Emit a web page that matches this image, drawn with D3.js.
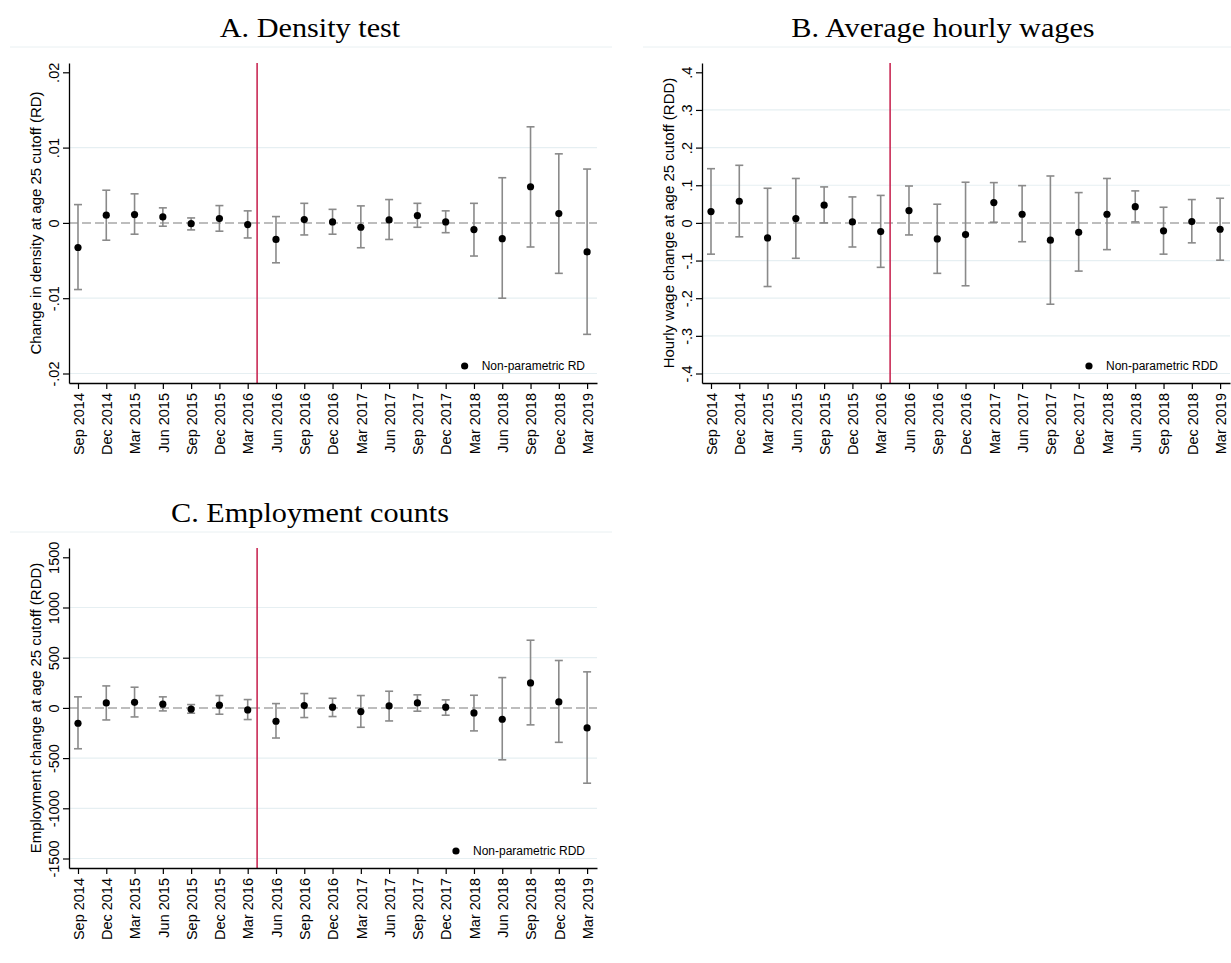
<!DOCTYPE html>
<html><head><meta charset="utf-8">
<script src="https://cdn.jsdelivr.net/npm/d3@7"></script>
<style>
body{margin:0;background:#fff;}
svg{display:block;font-family:"Liberation Sans",Arial,sans-serif;}
</style>
</head><body>
<svg id="chart" width="1231" height="963"></svg>
<script>
// ---------- data ----------
const quarters = ["Sep 2014","Dec 2014","Mar 2015","Jun 2015","Sep 2015","Dec 2015","Mar 2016","Jun 2016","Sep 2016","Dec 2016","Mar 2017","Jun 2017","Sep 2017","Dec 2017","Mar 2018","Jun 2018","Sep 2018","Dec 2018","Mar 2019"];
const cutoffIndex = 6.333; // April 2016 (between Mar 2016 and Jun 2016)

const densityEst = [-0.00327, 0.00102, 0.00111, 0.0008, -0.0001, 0.00058, -0.00022, -0.0022, 0.00044, 0.00013, -0.00058, 0.0004, 0.00097, 0.00013, -0.00088, -0.0021, 0.0048, 0.00124, -0.00385];
const densityLo  = [-0.00885, -0.0023, -0.0015, -0.00044, -0.00093, -0.0011, -0.002, -0.0053, -0.0016, -0.0015, -0.0033, -0.0022, -0.00058, -0.0013, -0.0044, -0.0100, -0.0032, -0.0067, -0.0148];
const densityHi  = [0.00243, 0.00434, 0.00386, 0.0020, 0.00066, 0.0023, 0.0016, 0.00084, 0.0026, 0.0018, 0.00226, 0.0031, 0.0026, 0.0016, 0.0026, 0.0060, 0.01276, 0.00917, 0.00715];
const densityTicks = [0.02, 0.01, 0, -0.01, -0.02];
const densityTickLabels = [".02", ".01", "0", "-.01", "-.02"];

const wageEst = [0.030, 0.0575, -0.040, 0.0115, 0.047, 0.0027, -0.023, 0.0327, -0.0425, -0.031, 0.054, 0.023, -0.046, -0.025, 0.023, 0.043, -0.021, 0.0035, -0.0168];
const wageLo  = [-0.083, -0.037, -0.169, -0.094, 0.0, -0.064, -0.118, -0.032, -0.134, -0.167, 0.0018, -0.050, -0.216, -0.128, -0.071, 0.0027, -0.083, -0.053, -0.099];
const wageHi  = [0.144, 0.153, 0.092, 0.118, 0.0956, 0.069, 0.073, 0.098, 0.0496, 0.108, 0.107, 0.099, 0.1246, 0.0805, 0.118, 0.085, 0.0416, 0.062, 0.0655];
const wageTicks = [0.4, 0.3, 0.2, 0.1, 0, -0.1, -0.2, -0.3, -0.4];
const wageTickLabels = [".4", ".3", ".2", ".1", "0", "-.1", "-.2", "-.3", "-.4"];

const empEst = [-153, 50, 56, 37, -13, 27, -20, -133, 23, 7, -37, 20, 50, 7, -50, -113, 249, 60, -199];
const empLo  = [-407, -120, -90, -30, -53, -63, -116, -300, -96, -86, -193, -130, -33, -73, -229, -517, -169, -343, -750];
const empHi  = [110, 219, 206, 110, 33, 123, 83, 43, 143, 96, 123, 166, 130, 80, 126, 302, 674, 472, 359];
const empTicks = [1500, 1000, 500, 0, -500, -1000, -1500];
const empTickLabels = ["1500", "1000", "500", "0", "-500", "-1000", "-1500"];

const titles = ["A. Density test", "B. Average hourly wages", "C. Employment counts"];
const yTitles = ["Change in density at age 25 cutoff (RD)", "Hourly wage change at age 25 cutoff (RDD)", "Employment change at age 25 cutoff (RDD)"];
const legendLabels = ["Non-parametric RD", "Non-parametric RDD", "Non-parametric RDD"];

// ---------- drawing ----------
const svg = d3.select("#chart");

function drawPanel(p) {
  const g = svg.append("g");
  const x = d3.scaleLinear().domain([-0.318, quarters.length - 1 + 0.35]).range([p.left, p.right]);
  const yBase = d3.scaleLinear()
      .domain([p.ticks[p.ticks.length - 1], p.ticks[0]])
      .range([p.bottom - 9.5, p.top + 9.3]);
  const y = d3.scaleLinear()
      .domain([yBase.invert(p.bottom), yBase.invert(p.top)])
      .range([p.bottom, p.top]);

  // faint graph-region line
  g.append("line").attr("x1", p.regionLeft).attr("x2", p.regionRight)
    .attr("y1", p.top - 16).attr("y2", p.top - 16)
    .attr("stroke", "#e9f0f2").attr("stroke-width", 1);

  // title
  g.append("text")
    .attr("transform", `translate(${p.titleX},${p.top - 26}) scale(1.08,1)`)
    .attr("text-anchor", "middle")
    .style("font-family", '"Liberation Serif","Times New Roman",serif')
    .style("font-size", "28px").attr("fill", "#000")
    .text(p.title);

  // gridlines (not at top tick and zero)
  g.selectAll("line.grid").data(p.ticks.filter((t, i) => i > 0 && t !== 0))
    .join("line").attr("class", "grid")
    .attr("x1", p.left).attr("x2", p.right)
    .attr("y1", d => y(d)).attr("y2", d => y(d))
    .attr("stroke", "#e6eff2").attr("stroke-width", 1.2);

  // dashed zero line
  g.append("line").attr("x1", p.left).attr("x2", p.right)
    .attr("y1", y(0)).attr("y2", y(0))
    .attr("stroke", "#a8a8a8").attr("stroke-width", 1.5)
    .attr("stroke-dasharray", "9,4");

  // cutoff line
  g.append("line").attr("x1", x(cutoffIndex)).attr("x2", x(cutoffIndex))
    .attr("y1", p.top).attr("y2", p.bottom)
    .attr("stroke", "#c92a55").attr("stroke-width", 1.6);

  const idx = d3.range(quarters.length);
  const eb = g.append("g").attr("stroke", "#8a8a8a").attr("stroke-width", 1.6);
  eb.selectAll("line.v").data(idx).join("line").attr("class", "v")
    .attr("x1", i => x(i)).attr("x2", i => x(i))
    .attr("y1", i => y(p.lo[i])).attr("y2", i => y(p.hi[i]));
  eb.selectAll("line.ct").data(idx).join("line").attr("class", "ct")
    .attr("x1", i => x(i) - 4).attr("x2", i => x(i) + 4)
    .attr("y1", i => y(p.hi[i])).attr("y2", i => y(p.hi[i]));
  eb.selectAll("line.cb").data(idx).join("line").attr("class", "cb")
    .attr("x1", i => x(i) - 4).attr("x2", i => x(i) + 4)
    .attr("y1", i => y(p.lo[i])).attr("y2", i => y(p.lo[i]));

  g.selectAll("circle.pt").data(idx).join("circle").attr("class", "pt")
    .attr("cx", i => x(i)).attr("cy", i => y(p.est[i])).attr("r", 3.6)
    .attr("fill", "#000");

  // y axis
  const ya = g.append("g").attr("transform", `translate(${p.left},0)`)
    .call(d3.axisLeft(y).tickValues(p.ticks).tickSize(6).tickSizeOuter(0)
      .tickFormat((d, i) => p.tickLabels[i]));
  ya.select(".domain").attr("stroke", "#000").attr("stroke-width", 1.3);
  ya.selectAll(".tick line").attr("stroke", "#000").attr("stroke-width", 1.2);
  ya.selectAll(".tick text")
    .attr("transform", "rotate(-90)")
    .attr("x", 0).attr("y", -10).attr("dy", 0)
    .attr("text-anchor", "middle")
    .style("font-size", "14.5px").attr("fill", "#000");

  // x axis
  const xa = g.append("g").attr("transform", `translate(0,${p.bottom})`)
    .call(d3.axisBottom(x).tickValues(idx).tickSize(6).tickSizeOuter(0)
      .tickFormat(i => quarters[i]));
  xa.select(".domain").attr("stroke", "#000").attr("stroke-width", 1.3);
  xa.selectAll(".tick line").attr("stroke", "#000").attr("stroke-width", 1.2);
  xa.selectAll(".tick text")
    .attr("transform", "rotate(-90)")
    .attr("x", -10).attr("y", 0).attr("dy", "0.36em")
    .attr("text-anchor", "end")
    .style("font-size", "14.5px").attr("fill", "#000");

  // y axis title
  g.append("text")
    .attr("transform", `translate(${p.left - 28},${(p.top + p.bottom) / 2}) rotate(-90)`)
    .attr("text-anchor", "middle")
    .style("font-size", "15px").attr("fill", "#000")
    .text(p.yTitle);

  // legend
  const lt = g.append("text")
    .attr("x", p.right - 12).attr("y", p.bottom - 17).attr("dy", "0.35em")
    .attr("text-anchor", "end").style("font-size", "12px").attr("fill", "#000")
    .text(p.legend);
  const w = lt.node().getComputedTextLength();
  g.append("circle").attr("cx", p.right - 12 - w - 17).attr("cy", p.bottom - 17)
    .attr("r", 3.6).attr("fill", "#000");
}

drawPanel({title: titles[0], yTitle: yTitles[0], legend: legendLabels[0],
  est: densityEst, lo: densityLo, hi: densityHi, ticks: densityTicks, tickLabels: densityTickLabels,
  left: 69, right: 597, top: 63, bottom: 383, titleX: 310, regionLeft: 10, regionRight: 612});
drawPanel({title: titles[1], yTitle: yTitles[1], legend: legendLabels[1],
  est: wageEst, lo: wageLo, hi: wageHi, ticks: wageTicks, tickLabels: wageTickLabels,
  left: 702, right: 1230, top: 63, bottom: 383, titleX: 943, regionLeft: 643, regionRight: 1231});
drawPanel({title: titles[2], yTitle: yTitles[2], legend: legendLabels[2],
  est: empEst, lo: empLo, hi: empHi, ticks: empTicks, tickLabels: empTickLabels,
  left: 69, right: 597, top: 548, bottom: 868, titleX: 310, regionLeft: 10, regionRight: 612});
</script>
</body></html>
